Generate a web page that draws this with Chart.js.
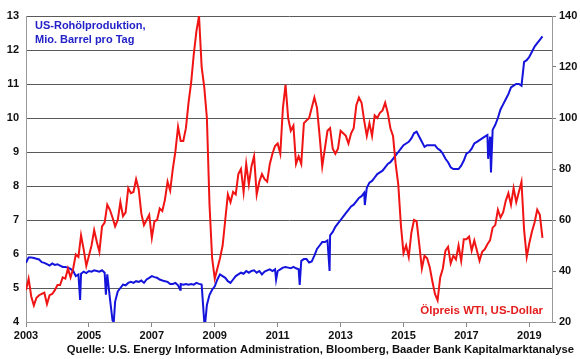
<!DOCTYPE html>
<html>
<head>
<meta charset="utf-8">
<script src="https://cdn.jsdelivr.net/npm/chart.js@4"></script>
<style>
  html, body { margin: 0; padding: 0; background: #fff; }
  #wrap { width: 580px; height: 359px; }
</style>
</head>
<body>
<div id="wrap"><canvas id="chart" width="580" height="359"></canvas></div>
<script>
// US crude production, mio. barrel per day, monthly from Jan 2003
const productionMonthly = [
  5.74, 5.90, 5.90, 5.88, 5.86, 5.84, 5.76, 5.74, 5.70, 5.66, 5.72, 5.68,
  5.70, 5.66, 5.62, 5.62, 5.60, 5.56, 5.50, 5.35, 5.40, 5.42, 5.48, 5.44,
  5.50, 5.48, 5.52, 5.50, 5.48, 5.52, 5.45, 5.40, 4.70, 4.05, 4.60, 4.90,
  5.00, 5.10, 5.08, 5.15, 5.18, 5.15, 5.20, 5.18, 5.22, 5.15, 5.25, 5.30,
  5.35, 5.32, 5.30, 5.25, 5.22, 5.20, 5.18, 5.12, 5.12, 5.15, 5.08, 5.12,
  5.10, 5.12, 5.10, 5.12, 5.10, 5.15, 5.12, 5.10, 4.00, 4.50, 4.80, 4.95,
  5.05, 5.25, 5.40, 5.35, 5.30, 5.20, 5.15, 5.25, 5.35, 5.40, 5.45, 5.42,
  5.50, 5.45, 5.50, 5.52, 5.45, 5.50, 5.40, 5.48, 5.52, 5.55, 5.50, 5.55,
  5.50, 5.55, 5.60, 5.62, 5.60, 5.58, 5.62, 5.58, 5.55, 5.80, 5.85, 5.85,
  5.75, 5.78, 5.95, 6.15, 6.25, 6.35, 6.35, 6.40, 6.55, 6.65, 6.80, 6.90,
  7.00, 7.10, 7.20, 7.30, 7.40, 7.45, 7.55, 7.65, 7.70, 7.80, 7.95, 8.10,
  8.15, 8.25, 8.35, 8.40, 8.45, 8.55, 8.65, 8.70, 8.80, 8.90, 9.00, 9.10,
  9.20, 9.25, 9.30, 9.40, 9.55, 9.60, 9.45, 9.30, 9.15, 9.20, 9.20, 9.20,
  9.20, 9.10, 9.05, 8.95, 8.80, 8.70, 8.55, 8.50, 8.50, 8.50, 8.60, 8.75,
  8.95, 9.00, 9.10, 9.25, 9.30, 9.35, 9.40, 9.45, 9.50, 9.45, 9.65, 9.80,
  10.00, 10.25, 10.40, 10.55, 10.70, 10.90, 10.95, 11.00, 11.00, 10.95, 11.65, 11.70,
  11.80, 11.95, 12.10, 12.20, 12.30, 12.40
];

// short hurricane dips in production (weekly readings)
const dipYears  = [2004.72, 2005.54, 2005.79, 2007.90, 2008.70, 2010.95, 2011.70, 2012.65, 2013.77, 2017.69, 2017.78];
const dipValues = [4.65, 4.80, 4.00, 4.95, 4.00, 5.24, 5.09, 5.50, 7.44, 8.80, 8.40];

// WTI oil price in USD, monthly from Jan 2003
const wtiMonthly = [
  32.5, 37.0, 30.0, 26.5, 29.5, 30.5, 31.0, 31.5, 27.0, 30.5, 31.0, 32.5,
  34.5, 34.5, 37.5, 37.0, 41.0, 37.5, 41.0, 46.5, 45.5, 54.0, 48.5, 42.0,
  46.0, 50.0, 56.0, 51.5, 47.5, 57.5, 59.0, 66.0, 64.0, 61.0, 57.5, 60.0,
  67.0, 61.5, 63.0, 72.5, 70.5, 71.0, 76.0, 72.0, 62.5, 58.0, 60.0, 62.0,
  53.0, 59.5, 60.0, 64.5, 63.5, 68.0, 75.0, 71.5, 80.0, 87.0, 96.5, 91.0,
  91.0, 96.0, 106.0, 114.0, 125.0, 134.0, 140.0, 120.0, 112.0, 100.0, 66.0, 45.0,
  37.0, 41.0, 45.0, 50.0, 60.0, 70.0, 67.0, 71.0, 70.0, 78.0, 80.0, 71.0,
  82.0, 74.0, 81.0, 85.0, 70.0, 75.0, 78.0, 76.0, 75.0, 82.0, 86.0, 89.0,
  90.0, 86.0, 104.0, 113.0, 100.0, 95.0, 97.0, 82.0, 85.0, 82.0, 98.0, 99.0,
  100.0, 104.0, 108.0, 104.0, 93.0, 81.0, 88.0, 95.0, 96.0, 88.0, 86.0, 88.0,
  95.0, 94.0, 93.0, 90.0, 94.0, 96.0, 105.0, 108.0, 106.0, 99.0, 93.0, 98.0,
  93.0, 101.0, 100.0, 102.0, 103.0, 106.0, 102.0, 96.0, 93.0, 82.0, 74.0, 58.0,
  47.0, 50.0, 45.5, 55.0, 60.0, 59.5, 50.5, 41.0, 46.0, 45.0, 41.5, 36.0,
  31.0, 28.5, 37.5, 41.0, 48.0, 49.5, 43.0, 46.0, 44.5, 50.0, 44.0, 52.5,
  52.5, 53.5, 48.0, 52.0, 48.0, 44.0, 47.5, 48.5, 50.5, 52.0, 57.0, 58.0,
  64.0, 61.0, 63.0, 67.5, 70.5, 66.0, 72.5, 67.0, 71.0, 75.0, 56.0, 45.5,
  51.0, 55.5, 59.0, 64.0, 62.0, 53.0
];

const startYear = 2003;
const xTickYears = [2003, 2005, 2007, 2009, 2011, 2013, 2015, 2017, 2019];

const prodPoints = productionMonthly.map((v, i) => ({ x: startYear + i / 12, y: v }))
  .concat(dipYears.map((yr, i) => ({ x: yr, y: dipValues[i] })))
  .sort((a, b) => a.x - b.x);
const wtiPoints = wtiMonthly.map((v, i) => ({ x: startYear + i / 12, y: v }));

const FONT = '"Liberation Sans", Arial, sans-serif';

const labelsPlugin = {
  id: 'labels',
  afterDraw(chart) {
    const ctx = chart.ctx;
    const a = chart.chartArea;
    ctx.save();
    ctx.font = 'bold 11px ' + FONT;
    ctx.textBaseline = 'alphabetic';
    ctx.fillStyle = '#2222c8';
    ctx.textAlign = 'left';
    ctx.fillText('US-Rohölproduktion,', a.left + 9, a.top + 13);
    ctx.fillText('Mio. Barrel pro Tag', a.left + 9, a.top + 27);
    ctx.fillStyle = '#e41c1c';
    ctx.textAlign = 'right';
    ctx.font = 'bold 11.5px ' + FONT;
    ctx.fillText('Ölpreis WTI, US-Dollar', a.right - 9, a.bottom - 8);
    ctx.fillStyle = '#111';
    ctx.font = 'bold 11.3px ' + FONT;
    ctx.fillText('Quelle: U.S. Energy Information Administration, Bloomberg, Baader Bank Kapitalmarktanalyse', 574, 353);
    ctx.restore();
  }
};

new Chart(document.getElementById('chart').getContext('2d'), {
  type: 'line',
  data: {
    datasets: [
      {
        label: 'Ölpreis WTI, US-Dollar',
        data: wtiPoints,
        yAxisID: 'y1',
        borderColor: '#f01414',
        borderWidth: 2,
        pointRadius: 0,
        order: 0
      },
      {
        label: 'US-Rohölproduktion',
        data: prodPoints,
        yAxisID: 'y',
        borderColor: '#1414dc',
        borderWidth: 2,
        pointRadius: 0,
        order: 1
      }
    ]
  },
  options: {
    responsive: false,
    animation: false,
    layout: { padding: { top: 16, left: 0, right: 0, bottom: 0 } },
    plugins: {
      legend: { display: false },
      tooltip: { enabled: false },
      title: { display: false }
    },
    scales: {
      x: {
        type: 'linear',
        min: 2003,
        max: 2019.72,
        afterBuildTicks: scale => { scale.ticks = xTickYears.map(v => ({ value: v })); },
        afterFit: scale => { scale.height = 37; },
        grid: { drawOnChartArea: false, drawTicks: true, tickLength: 5, color: '#888' },
        border: { color: '#999' },
        ticks: {
          padding: 2,
          color: '#111',
          font: { family: FONT, size: 11, weight: 'bold' },
          callback: v => String(v),
          maxRotation: 0
        }
      },
      y: {
        position: 'left',
        min: 4,
        max: 13,
        afterFit: scale => { scale.width = 26; },
        grid: { color: '#5a5a5a', drawTicks: false },
        border: { color: '#999' },
        ticks: {
          stepSize: 1,
          padding: 7,
          color: '#111',
          font: { family: FONT, size: 11, weight: 'bold' }
        }
      },
      y1: {
        position: 'right',
        min: 20,
        max: 140,
        afterFit: scale => { scale.width = 28; },
        grid: { drawOnChartArea: false, drawTicks: true, tickLength: 4, color: '#777' },
        border: { color: '#999' },
        ticks: {
          stepSize: 20,
          padding: 3,
          color: '#111',
          font: { family: FONT, size: 11, weight: 'bold' }
        }
      }
    }
  },
  plugins: [labelsPlugin]
});
</script>
</body>
</html>
